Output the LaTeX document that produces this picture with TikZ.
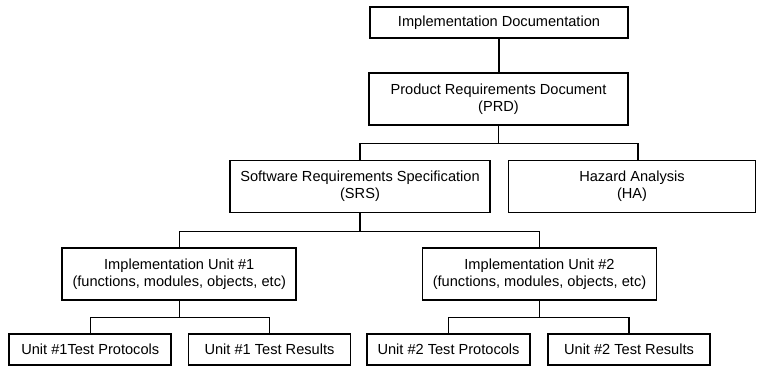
\documentclass[tikz,border=0pt]{standalone}
\usepackage{fontspec}
\setmainfont{Liberation Sans}

\begin{document}
\begin{tikzpicture}[
        x=1pt, y=-1pt,
        font=\fontsize{14.6}{17}\selectfont,
        box/.style={draw, line width=1.6pt, align=center, inner sep=0pt},
        tall/.style={minimum height=52pt},
        flat/.style={minimum height=31pt},
        link/.style={line width=1.3pt}
    ]
        \useasboundingbox (0,0) rectangle (757,366);

        % --- Upper part ---
        \node[box, flat, minimum width=258pt] (doc) at (499,22.5) {Implementation Documentation};
        \node[box, tall, minimum width=259pt] (prd) at (498.5,99) {Product Requirements Document\\(PRD)};
        \node[box, tall, minimum width=260pt] (srs) at (360,186.5) {Software Requirements Specification\\(SRS)};
        \node[box, tall, minimum width=247pt] (ha) at (632,186.5) {Hazard Analysis\\(HA)};

        % --- Implementation units ---
        \node[box, tall, minimum width=234pt] (iuA) at (179.25,274) {Implementation Unit \#1\\(functions, modules, objects, etc)};
        \node[box, tall, minimum width=234pt] (iuB) at (539.5,274) {Implementation Unit \#2\\(functions, modules, objects, etc)};

        % --- Test boxes ---
        \node[box, flat, minimum width=162pt] (tpA) at (90.25,349.5) {Unit \#1Test Protocols};
        \node[box, flat, minimum width=162pt] (trA) at (269.5,349.5) {Unit \#1 Test Results};
        \node[box, flat, minimum width=163pt] (tpB) at (448.5,349.5) {Unit \#2 Test Protocols};
        \node[box, flat, minimum width=162pt] (trB) at (629,349.5) {Unit \#2 Test Results};

        % --- Connectors ---
        \draw[link] (doc.south) -- (doc.south |- prd.north);
        \draw[link] (prd.south) -- ++(0,18) coordinate (jPrd);
        \draw[link] (srs.north) |- (jPrd) -| ([xshift=6pt]ha.north);

        \draw[link] (srs.south) -- ++(0,18.5) coordinate (jSrs);
        \draw[link] (iuA.north) |- (jSrs) -| (iuB.north);

        \draw[link] (iuA.south) -- ++(0,16.5) coordinate (jA);
        \draw[link] (tpA.north) |- (jA) -| (trA.north);
        \draw[link] (iuB.south) -- ++(0,16.5) coordinate (jB);
        \draw[link] (tpB.north) |- (jB) -| (trB.north);

    \end{tikzpicture}
\end{document}
